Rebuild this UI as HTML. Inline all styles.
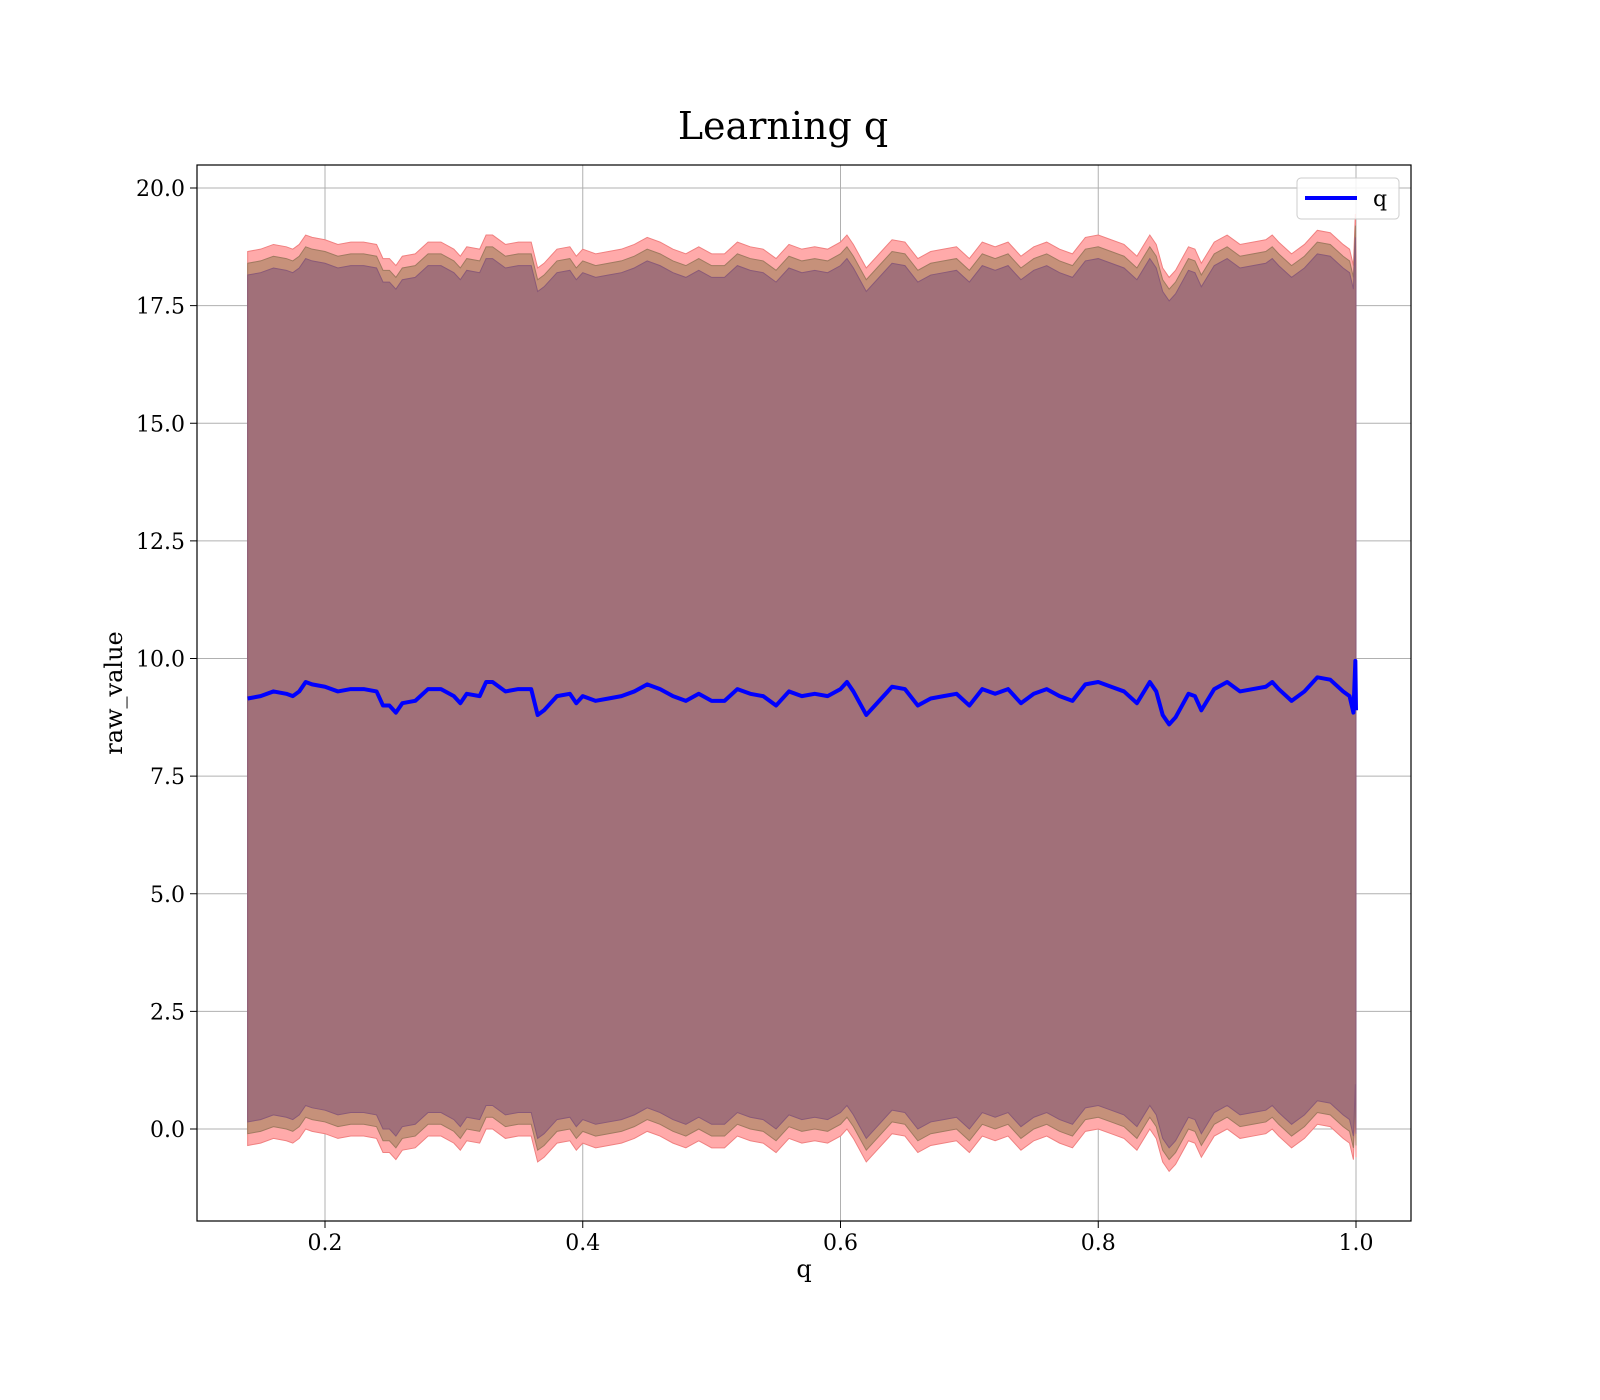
<!DOCTYPE html>
<html><head><meta charset="utf-8"><style>
html,body{margin:0;padding:0;background:#fff;}
svg{display:block;font-family:"DejaVu Serif","Liberation Serif",serif;}
</style></head><body>
<svg id="chart" width="1600" height="1400">
<text x="783" y="139" font-size="38" text-anchor="middle">Learning q</text>
<g id="grid"></g>
<g id="bands"></g>
<g id="lines"></g>
<rect x="197" y="165" width="1214" height="1056" fill="none" stroke="#000" stroke-width="1.2"/>
<g id="ticks"></g>
<text x="804" y="1277" font-size="24" text-anchor="middle">q</text>
<text x="0" y="0" font-size="24" text-anchor="middle" transform="translate(122,693) rotate(-90)">raw_value</text>
<g>
<rect x="1297" y="178" width="102" height="41" rx="4" fill="#fff" fill-opacity="0.85" stroke="#ccc"/>
<line x1="1305" y1="198" x2="1357" y2="198" stroke="#0000ff" stroke-width="4"/>
<text x="1373" y="206" font-size="22">q</text>
</g>
</svg>
<script>
const qValues=[0.14,0.15,0.16,0.17,0.175,0.18,0.185,0.19,0.20,0.21,0.22,0.23,0.24,0.245,0.25,0.255,0.26,0.27,0.28,0.29,0.30,0.305,0.31,0.32,0.325,0.33,0.34,0.35,0.36,0.365,0.37,0.38,0.39,0.395,0.40,0.41,0.42,0.43,0.44,0.45,0.46,0.47,0.48,0.49,0.50,0.51,0.52,0.53,0.54,0.55,0.56,0.57,0.58,0.59,0.60,0.605,0.61,0.62,0.63,0.64,0.65,0.66,0.67,0.68,0.69,0.70,0.71,0.72,0.73,0.74,0.75,0.76,0.77,0.78,0.79,0.80,0.81,0.82,0.83,0.84,0.845,0.85,0.855,0.86,0.87,0.875,0.88,0.89,0.90,0.91,0.92,0.93,0.935,0.94,0.95,0.96,0.97,0.98,0.99,0.995,0.998,0.9995,1.0];
const meanValues=[9.15,9.2,9.3,9.25,9.2,9.3,9.5,9.45,9.4,9.3,9.35,9.35,9.3,9.0,9.0,8.85,9.05,9.1,9.35,9.35,9.2,9.05,9.25,9.2,9.5,9.5,9.3,9.35,9.35,8.8,8.9,9.2,9.25,9.05,9.2,9.1,9.15,9.2,9.3,9.45,9.35,9.2,9.1,9.25,9.1,9.1,9.35,9.25,9.2,9.0,9.3,9.2,9.25,9.2,9.35,9.5,9.3,8.8,9.1,9.4,9.35,9.0,9.15,9.2,9.25,9.0,9.35,9.25,9.35,9.05,9.25,9.35,9.2,9.1,9.45,9.5,9.4,9.3,9.05,9.5,9.3,8.8,8.6,8.75,9.25,9.2,8.9,9.35,9.5,9.3,9.35,9.4,9.5,9.35,9.1,9.3,9.6,9.55,9.3,9.2,8.85,9.95,8.9];
const bandOffsets=[9.5,9.25,9.0];
const xTicks=[0.2,0.4,0.6,0.8,1.0];
const yTicks=[0,2.5,5,7.5,10,12.5,15,17.5,20];
const xS=v=>325+(v-0.2)*1288.75;
const yS=v=>1129-v*47.05;
const NS='http://www.w3.org/2000/svg';
function mk(tag,attrs,parent){const e=document.createElementNS(NS,tag);for(const k in attrs)e.setAttribute(k,attrs[k]);parent.appendChild(e);return e;}
const grid=document.getElementById('grid'),ticks=document.getElementById('ticks'),bands=document.getElementById('bands'),lines=document.getElementById('lines');
xTicks.forEach(t=>{const x=xS(t);
 const g=mk('line',{x1:x,y1:165,x2:x,y2:1221,stroke:'#b0b0b0','stroke-width':1},grid);
 
 
 const tk=mk('line',{x1:x,y1:1221,x2:x,y2:1228,stroke:'#000'},ticks);
 
 
 const tl=mk('text',{x:x,y:1250,'font-size':22,'text-anchor':'middle'},ticks);tl.textContent=t.toFixed(1);
 
 });
yTicks.forEach(t=>{const y=yS(t);
 const g=mk('line',{x1:197,y1:y,x2:1411,y2:y,stroke:'#b0b0b0','stroke-width':1},grid);
 
 
 const tk=mk('line',{x1:190,y1:y,x2:197,y2:y,stroke:'#000'},ticks);
 
 
 const tl=mk('text',{x:185,y:y+8,'font-size':22,'text-anchor':'end'},ticks);tl.textContent=t.toFixed(1);
 
 });
const fills=['#ffaaaa','#c6917a','#a17079'],strokes=['#f08080','#a07a60','#8a5a78'];
const names=['band-outer','band-middle','band-inner'];
bandOffsets.forEach((o,i)=>{
 let up=qValues.map((q,j)=>xS(q)+','+yS(meanValues[j]+o));
 let dn=qValues.map((q,j)=>xS(q)+','+yS(meanValues[j]-o)).reverse();
 const p=mk('polygon',{points:up.concat(dn).join(' '),fill:fills[i],stroke:strokes[i],'stroke-width':1},bands);
 
 });
const ln=mk('polyline',{points:qValues.map((q,j)=>xS(q)+','+yS(meanValues[j])).join(' '),fill:'none',stroke:'#0000ff','stroke-width':4,'stroke-linejoin':'round'},lines);


</script>
</body></html>
